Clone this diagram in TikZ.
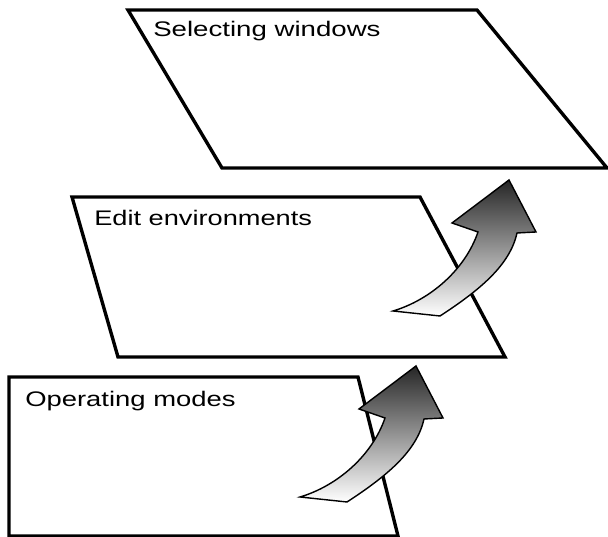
\documentclass[tikz,border=0pt]{standalone}
\usepackage{fontspec}
\usepackage{tkz-euclide}
\setmainfont{Liberation Sans}
\tikzset{>=stealth}
\tikzset{layer/.style={line width=2.4pt, line join=miter},
  bigarrow/.style={draw, line width=1pt, top color=black!85, bottom color=white},
  layername/.style={anchor=base west, inner sep=0pt, font=\fontsize{15}{18}\selectfont}}

\begin{document}
\begin{tikzpicture}[x=0.025cm, y=0.025cm]
\useasboundingbox (0,0) rectangle (608,537);
\tkzDefPoints{9/1/A, 398/1/B, 358/160/C, 9/160/D}
\tkzDefPoints{118/180/E, 505/180/F, 420/340/G, 72/340/H}
\tkzDefPoints{222/369/I, 607/369/J, 477/527/K, 128/527/L}
\tkzDrawPolygon[layer](A,B,C,D)
\tkzDrawPolygon[layer](E,F,G,H)
\tkzDrawPolygon[layer](I,J,K,L)
\node[layername] (modes) at (25,130) {\scalebox{1.3}[1]{Operating modes}};
\node[layername] (envs) at (94,311) {\scalebox{1.29}[1]{Edit environments}};
\node[layername] (wins) at (153,500) {\scalebox{1.31}[1]{Selecting windows}};
% curved arrows between the layers
\foreach \dx/\dy in {0/0, -93/-186}
  \draw[bigarrow, shift={(\dx,\dy)}] (393,226) -- (440,221)
    .. controls (480,247) and (510,272) .. (517,304) -- (536,305) -- (509,357)
    -- (452,314) -- (478,305) .. controls (465,267) and (430,237) .. (393,226) -- cycle;
\end{tikzpicture}
\end{document}
